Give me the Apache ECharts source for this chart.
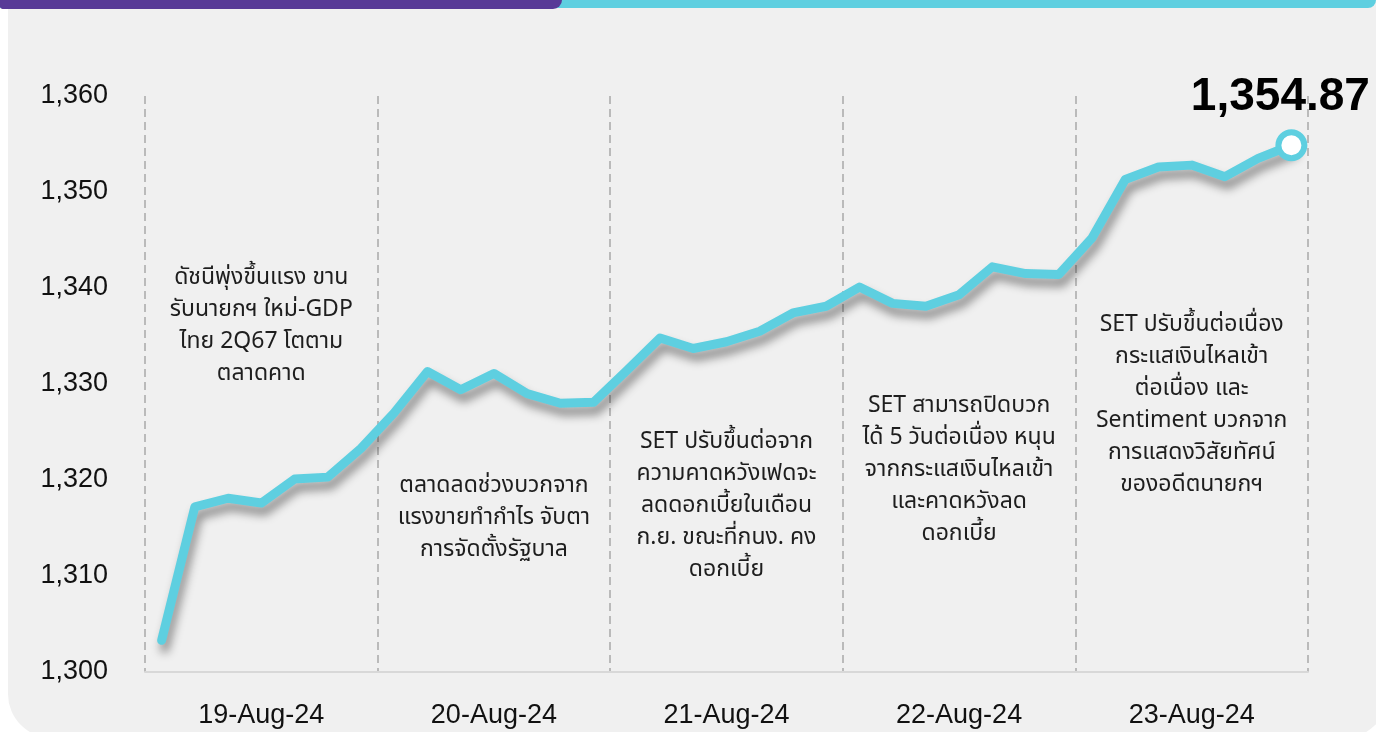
<!DOCTYPE html>
<html>
<head>
<meta charset="utf-8">
<script src="https://cdn.jsdelivr.net/npm/echarts@6/dist/echarts.min.js"></script>
<style>
  html, body { margin: 0; padding: 0; background: #fff; }
  #wrap { position: relative; width: 1376px; height: 732px; overflow: hidden; background: #fff; }
  #panel { position: absolute; left: 8px; top: 0; width: 1380px; height: 738px; background: #f0f0f0; border-radius: 0 0 44px 44px; }
  #barCyan { position: absolute; left: 0; top: 0; width: 1376px; height: 8px; background: #5ecfe0; border-radius: 0 0 14px 0; }
  #barPurple { position: absolute; left: 0; top: 0; width: 562px; height: 9px; background: #583a97; border-radius: 0 0 22px 6px; }
  #chart { position: absolute; left: 0; top: 0; width: 1376px; height: 732px; }
</style>
</head>
<body>
<div id="wrap">
  <div id="panel"></div>
  <div id="barCyan"></div>
  <div id="barPurple"></div>
  <div id="chart"></div>
</div>
<script>
// วันทำการ 5 วัน, 7 จุดต่อวัน
const days = ['19-Aug-24', '20-Aug-24', '21-Aug-24', '22-Aug-24', '23-Aug-24'];
const slotsPerDay = 7;
const categories = days.flatMap(d => Array.from({ length: slotsPerDay }, (_, k) => d + ' ' + (k + 1)));

// ดัชนี SET (อ่านค่าจากภาพ)
const setIndex = [
  1303.3, 1317.2, 1318.1, 1317.6, 1320.1, 1320.3, 1323.3,
  1327.0, 1331.3, 1329.4, 1331.1, 1329.0, 1328.0, 1328.1,
  1331.4, 1334.8, 1333.7, 1334.4, 1335.5, 1337.4, 1338.1,
  1340.1, 1338.4, 1338.1, 1339.3, 1342.2, 1341.5, 1341.4,
  1345.2, 1351.3, 1352.6, 1352.8, 1351.6, 1353.5, 1354.87
];

// แกน Y
const yMin = 1300, yMax = 1360, yStep = 10;

// ข้อความประจำวัน
const notes = [
  'ดัชนีพุ่งขึ้นแรง ขาน\nรับนายกฯ ใหม่-GDP\nไทย 2Q67 โตตาม\nตลาดคาด',
  'ตลาดลดช่วงบวกจาก\nแรงขายทำกำไร จับตา\nการจัดตั้งรัฐบาล',
  'SET ปรับขึ้นต่อจาก\nความคาดหวังเฟดจะ\nลดดอกเบี้ยในเดือน\nก.ย. ขณะที่กนง. คง\nดอกเบี้ย',
  'SET สามารถปิดบวก\nได้ 5 วันต่อเนื่อง หนุน\nจากกระแสเงินไหลเข้า\nและคาดหวังลด\nดอกเบี้ย',
  'SET ปรับขึ้นต่อเนื่อง\nกระแสเงินไหลเข้า\nต่อเนื่อง และ\nSentiment บวกจาก\nการแสดงวิสัยทัศน์\nของอดีตนายกฯ'
];

const lineColor = '#5ecfe0';
const latinFont = "'Liberation Sans', Arial, sans-serif";
const thaiFont = "'Noto Sans Thai', 'Noto Sans Thai UI', 'Noto Sans', sans-serif";
// จุดกึ่งกลางแนวตั้งของข้อความแต่ละวัน (px)
const noteMidY = [327, 519, 507, 471, 406];

const chart = echarts.init(document.getElementById('chart'));

const lastIdx = setIndex.length - 1;
const seriesData = setIndex.map((v, i) => i !== lastIdx ? v : {
  value: v,
  symbol: 'circle',
  symbolSize: 26,
  itemStyle: { color: '#ffffff', borderColor: lineColor, borderWidth: 6 },
  label: {
    show: true,
    position: 'top',
    distance: 9,
    offset: [-11, 0],
    formatter: p => Number(p.value).toLocaleString('en-US', { minimumFractionDigits: 2 }),
    fontFamily: latinFont,
    fontSize: 46,
    fontWeight: 900,
    color: '#000'
  }
});

chart.setOption({
  animation: false,
  backgroundColor: 'transparent',
  grid: { left: 145, right: 68, top: 96, bottom: 60 },
  xAxis: {
    type: 'category',
    data: categories,
    boundaryGap: true,
    axisLine: { show: true, lineStyle: { color: '#d8d8d8', width: 2 } },
    axisTick: { show: false },
    axisLabel: {
      interval: i => i % slotsPerDay === 3,
      formatter: v => v.split(' ')[0],
      margin: 30,
      fontFamily: latinFont,
      fontSize: 27,
      color: '#111'
    },
    splitLine: {
      show: true,
      interval: i => i % slotsPerDay === 0,
      lineStyle: { color: '#a8a8a8', width: 1.5, type: [8, 5] }
    }
  },
  yAxis: {
    type: 'value',
    min: yMin,
    max: yMax,
    interval: yStep,
    axisLine: { show: false },
    axisTick: { show: false },
    splitLine: { show: false },
    axisLabel: {
      margin: 37,
      fontFamily: latinFont,
      fontSize: 27,
      color: '#111',
      formatter: v => v.toLocaleString('en-US')
    }
  },
  series: [{
    type: 'line',
    data: seriesData,
    symbol: 'none',
    smooth: false,
    z: 5,
    lineStyle: {
      color: lineColor,
      width: 9,
      cap: 'round',
      join: 'round',
      shadowColor: 'rgba(0,0,0,0.42)',
      shadowBlur: 10,
      shadowOffsetX: 3,
      shadowOffsetY: 8
    }
  }]
});

// วางข้อความกลางช่วงของแต่ละวัน
const noteGraphics = notes.map((t, d) => ({
  type: 'text',
  x: chart.convertToPixel({ xAxisIndex: 0 }, categories[d * slotsPerDay + 3]),
  y: noteMidY[d],
  z: 10,
  style: {
    text: t,
    align: 'center',
    verticalAlign: 'middle',
    lineHeight: 32,
    font: '23px ' + thaiFont,
    fill: '#1e1e1e'
  }
}));
chart.setOption({ graphic: noteGraphics });
</script>
</body>
</html>
